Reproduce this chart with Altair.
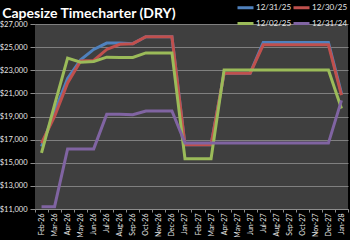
import altair as alt
import pandas as pd

months = ["Feb-26", "Mar-26", "Apr-26", "May-26", "Jun-26", "Jul-26", "Aug-26", "Sep-26",
          "Oct-26", "Nov-26", "Dec-26", "Jan-27", "Feb-27", "Mar-27", "Apr-27", "May-27",
          "Jun-27", "Jul-27", "Aug-27", "Sep-27", "Oct-27", "Nov-27", "Dec-27", "Jan-28"]

s_123125 = [16400, 19400, 22300, 23900, 24800, 25350, 25350, 25300, 25900, 25900, 25900, 16550,
            16550, 16550, 22750, 22750, 22750, 25400, 25400, 25400, 25400, 25400, 25400, 21000]
s_123025 = [16700, 19000, 21900, 23800, 23850, 24800, 25250, 25300, 25900, 25900, 25900, 16550,
            16550, 16550, 22750, 22750, 22750, 25200, 25200, 25200, 25200, 25200, 25200, 20850]
s_120225 = [15850, 20000, 24050, 23700, 23760, 24130, 24100, 24100, 24500, 24500, 24500, 15350,
            15350, 15350, 23030, 23030, 23030, 23030, 23030, 23030, 23030, 23030, 23030, 19700]
s_123124 = [11200, 11200, 16200, 16200, 16200, 19200, 19200, 19150, 19480, 19480, 19480, 16700,
            16700, 16700, 16700, 16700, 16700, 16700, 16700, 16700, 16700, 16700, 16700, 20400]

series_names = ["12/31/25", "12/30/25", "12/02/25", "12/31/24"]
series_vals = [s_123125, s_123025, s_120225, s_123124]
series_colors = ["#4F81BD", "#C0504D", "#9BBB59", "#8064A2"]

rows = []
for name, vals in zip(series_names, series_vals):
    for m, v in zip(months, vals):
        rows.append({"month": m, "value": v, "series": name})
df = pd.DataFrame(rows)

FONT = "Lato"
TITLE_FONT = "Liberation Sans Narrow, Lato"

base = alt.Chart(df).mark_line(strokeWidth=3, strokeJoin="miter").encode(
    x=alt.X("month:O", sort=months, bandPosition=0.5,
            scale=alt.Scale(type="band", paddingInner=0, paddingOuter=0),
            axis=alt.Axis(title=None, labelAngle=270, labelAlign="right", labelBaseline="middle",
                          labelFontSize=7, labelColor="#e6e6e6", labelFont=FONT, labelPadding=1,
                          tickBand="extent", tickColor="#8c8c8c", tickSize=3,
                          domainColor="#8c8c8c", grid=False)),
    y=alt.Y("value:Q", scale=alt.Scale(domain=[11000, 27000], nice=False),
            axis=alt.Axis(title=None, values=list(range(11000, 27001, 2000)), format="$,.0f",
                          labelFontSize=7.5, labelColor="#e6e6e6", labelFont=FONT, labelPadding=3,
                          tickColor="#8c8c8c", tickSize=5, domain=False,
                          gridColor="#808080", gridWidth=1)),
    color=alt.Color("series:N", scale=alt.Scale(domain=series_names, range=series_colors),
                    legend=alt.Legend(title=None, orient="none", legendX=201, legendY=-26,
                                      direction="horizontal", columns=2, symbolType="stroke",
                                      symbolSize=256, symbolStrokeWidth=3, labelColor="#e6e6e6",
                                      labelFontSize=8, labelFont=FONT, labelOffset=1,
                                      columnPadding=-6, rowPadding=-15)),
)

layers = [base.transform_filter(alt.datum.series == s) for s in series_names]

chart = alt.layer(*layers).properties(
    width=313, height=185,
    autosize=alt.AutoSizeParams(type="none"),
    padding={"left": 35, "top": 24, "right": 2, "bottom": 31},
    background="black",
    title=alt.TitleParams("Capesize Timecharter (DRY)", anchor="start", dx=3, offset=0, dy=23,
                          fontSize=14, font=TITLE_FONT, fontWeight="bold", color="white"),
).configure_view(fill="#3f3f3f", stroke=None)

chart.save("out.html", embed_options={"renderer": "svg", "actions": False})
